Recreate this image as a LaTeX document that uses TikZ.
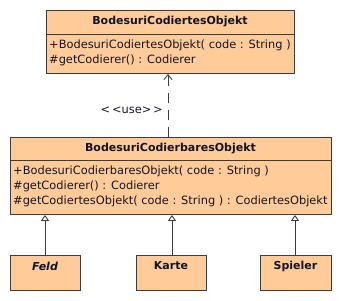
\documentclass[tikz,border=0pt]{standalone}
\usepackage{fontspec}
\setmainfont{DejaVu Sans}
\usetikzlibrary{arrows.meta}
\definecolor{classfill}{HTML}{FFCC99}
\definecolor{classline}{HTML}{3C3C3C}
\definecolor{classtext}{HTML}{141428}
\begin{document}
\begin{tikzpicture}[x=1pt,y=-1pt,
  classbox/.style={draw=classline, fill=classfill, line width=0.9pt, anchor=north west, inner sep=0pt},
  title/.style={font=\fontsize{11}{13}\selectfont\bfseries, text=classtext, inner sep=0pt},
  member/.style={font=\fontsize{11.4}{13}\selectfont, text=classtext, anchor=west, inner sep=0pt},
  inherit/.style={draw=classline, line width=0.9pt, -{Triangle[open, width=8pt, length=6pt]}},
  usedep/.style={draw=classline, line width=0.9pt, dash pattern=on 10pt off 7pt, -{Straight Barb[width=8pt, length=5pt]}}
]
\useasboundingbox (0,0) rectangle (340,300);

% Codierte object class
\node[classbox, minimum width=248pt, minimum height=63pt] (cod) at (46,10) {};
\draw[classline, line width=0.9pt] (46,34) -- (294,34);
\node[title] (codt) at (170,22) {BodesuriCodiertesObjekt};
\node[member] (codm1) at (49,45) {+BodesuriCodiertesObjekt( code : String )};
\node[member] (codm2) at (49,60) {\#getCodierer() : Codierer};

% Codierbares object class
\node[classbox, minimum width=321pt, minimum height=77pt] (cbo) at (10,137) {};
\draw[classline, line width=0.9pt] (10,160) -- (331,160);
\node[title] (cbot) at (170.5,148.5) {BodesuriCodierbaresObjekt};
\node[member] (cbom1) at (13,171) {+BodesuriCodierbaresObjekt( code : String )};
\node[member] (cbom2) at (13,186) {\#getCodierer() : Codierer};
\node[member] (cbom3) at (13,201) {\#getCodiertesObjekt( code : String ) : CodiertesObjekt};

% Subclasses
\node[classbox, minimum width=70pt, minimum height=35pt] (feld) at (10,255) {};
\node[title, font=\fontsize{11}{13}\selectfont\bfseries\itshape] (feldt) at (45,266) {Feld};
\node[classbox, minimum width=70pt, minimum height=35pt] (karte) at (136,255) {};
\node[title] (kartet) at (171,266) {Karte};
\node[classbox, minimum width=71pt, minimum height=35pt] (spieler) at (260,255) {};
\node[title] (spielert) at (295.5,266) {Spieler};

% Dependency
\draw[usedep] (cbo.north -| 168,0) -- (cod.south -| 168,0);
\node[font=\fontsize{11.4}{13}\selectfont, text=classtext, inner sep=0pt, anchor=east] (uselbl) at (163,110) {<\,<use>\,>};

% Generalizations
\draw[inherit] (feld.north -| 45,0) -- (cbo.south -| 45,0);
\draw[inherit] (karte.north -| 172,0) -- (cbo.south -| 172,0);
\draw[inherit] (spieler.north -| 295,0) -- (cbo.south -| 295,0);
\end{tikzpicture}
\end{document}
